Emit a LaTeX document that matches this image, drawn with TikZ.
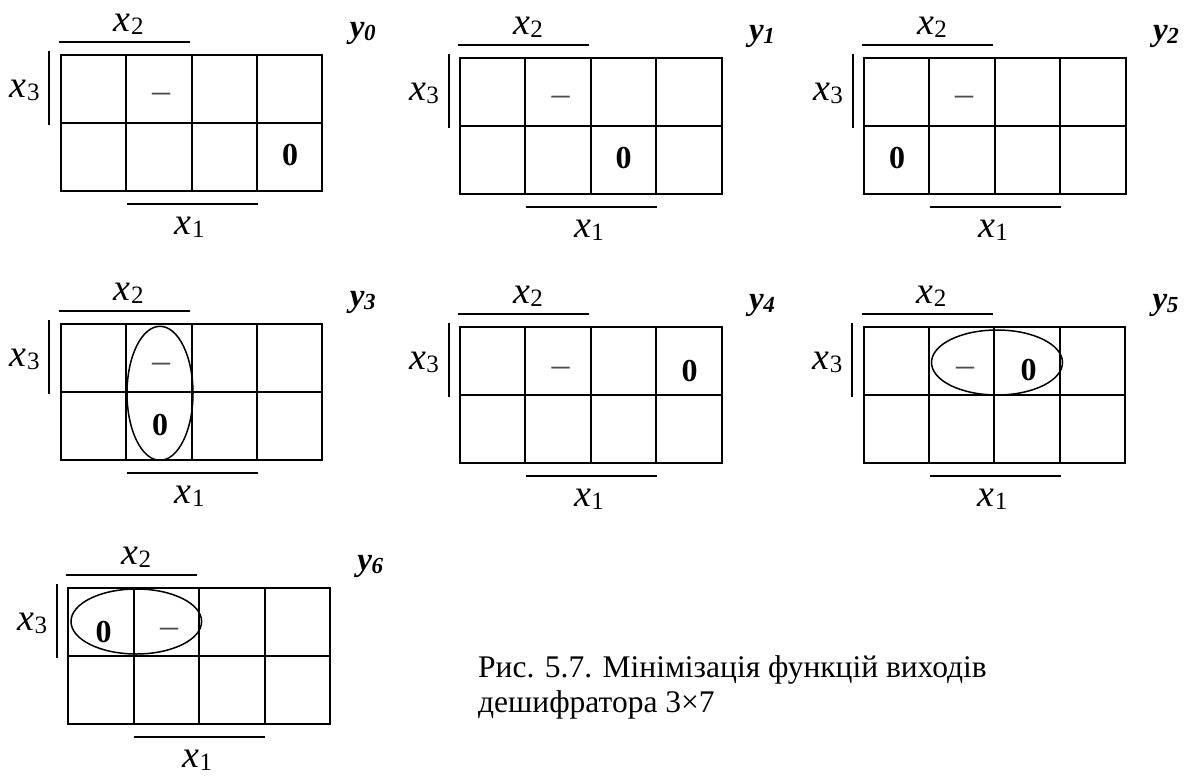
\documentclass[tikz,border=0pt]{standalone}
\usepackage{fontspec}
\setmainfont{Liberation Serif}
\tikzset{
  x=1pt, y=-1pt,
  kgrid/.style={line width=2pt, line join=miter},
  kbar/.style={line width=2pt},
  kloop/.style={line width=1.5pt},
  lbl/.style={inner sep=0pt, font=\fontsize{38}{42}\selectfont},
  ylbl/.style={inner sep=0pt, font=\fontsize{33}{36}\selectfont\bfseries\itshape},
  zero/.style={inner sep=0pt, font=\fontsize{32}{36}\selectfont\bfseries},
  dc/.style={inner sep=0pt, text=black!70, font=\fontsize{36}{40}\selectfont},
  captext/.style={inner sep=0pt, anchor=base west, align=left, font=\fontsize{31.5}{35}\selectfont}
}
\newcommand\vx[1]{\textit{x}\kern0.5pt\raisebox{-3pt}{\fontsize{25}{27}\selectfont #1}}
\newcommand\vy[1]{\textit{y}\kern-0.5pt\raisebox{-3pt}{\fontsize{23}{25}\selectfont\bfseries #1}}
\newcommand\kmap[4]{%
  \begin{scope}[shift={(#2,#3)}]
    \draw[kgrid] (0,0) rectangle (261.5,135.5);
    \draw[kgrid] (0,67.75) -- (261.5,67.75);
    \foreach \i in {1,2,3} \draw[kgrid] (65.4*\i,0) -- (65.4*\i,135.5);
    \coordinate (#1-x2a) at (-2,-13);
    \coordinate (#1-x2b) at (129,-13);
    \draw[kbar] (#1-x2a) -- (#1-x2b);
    \coordinate (#1-x3a) at (-11.5,-4);
    \coordinate (#1-x3b) at (-11.5,70);
    \draw[kbar] (#1-x3a) -- (#1-x3b);
    \coordinate (#1-x1a) at (66,148.5);
    \coordinate (#1-x1b) at (197,148.5);
    \draw[kbar] (#1-x1a) -- (#1-x1b);
    \node[lbl] (#1-x2) at (68,-31) {\vx{2}};
    \node[lbl] (#1-x3) at (-36,35) {\vx{3}};
    \node[lbl] (#1-x1) at (129,172) {\vx{1}};
    \node[ylbl] (#1-y) at (302,-22) {\vy{#4}};
  \end{scope}}
\begin{document}
\begin{tikzpicture}
\useasboundingbox (0,0) rectangle (1191,776);
\fill[white] (0,0) rectangle (1191,776);
% maps
\kmap{m0}{60.7}{55}{0}
\kmap{m1}{460}{58.3}{1}
\kmap{m2}{864}{58.3}{2}
\kmap{m3}{60.7}{324.3}{3}
\kmap{m4}{460}{327.3}{4}
\kmap{m5}{863.5}{327.3}{5}
\kmap{m6}{68.3}{588}{6}
% cell contents
\node[dc] (m0-d) at (161,98) {–};
\node[zero] (m0-z) at (290,155) {0};
\node[dc] (m1-d) at (560.5,101) {–};
\node[zero] (m1-z) at (623.5,158) {0};
\node[dc] (m2-d) at (964,101) {–};
\node[zero] (m2-z) at (897,158) {0};
\node[dc] (m3-d) at (161,368) {–};
\node[zero] (m3-z) at (160,425) {0};
\node[dc] (m4-d) at (560.5,372) {–};
\node[zero] (m4-z) at (689.5,371) {0};
\node[dc] (m5-d) at (965,372) {–};
\node[zero] (m5-z) at (1028.5,370) {0};
\node[zero] (m6-z) at (103.5,632) {0};
\node[dc] (m6-d) at (169,633) {–};
% groupings
\draw[kloop] (160,393.3) ellipse [x radius=33pt, y radius=67pt];
\draw[kloop] (997,362.5) ellipse [x radius=65.5pt, y radius=32.5pt];
\draw[kloop] (136.3,621.5) ellipse [x radius=65.3pt, y radius=32.5pt];
% caption
\node[captext] (caption) at (478,712) {Рис. 5.7. Мінімізація функцій виходів\\дешифратора 3×7};
\end{tikzpicture}
\end{document}
